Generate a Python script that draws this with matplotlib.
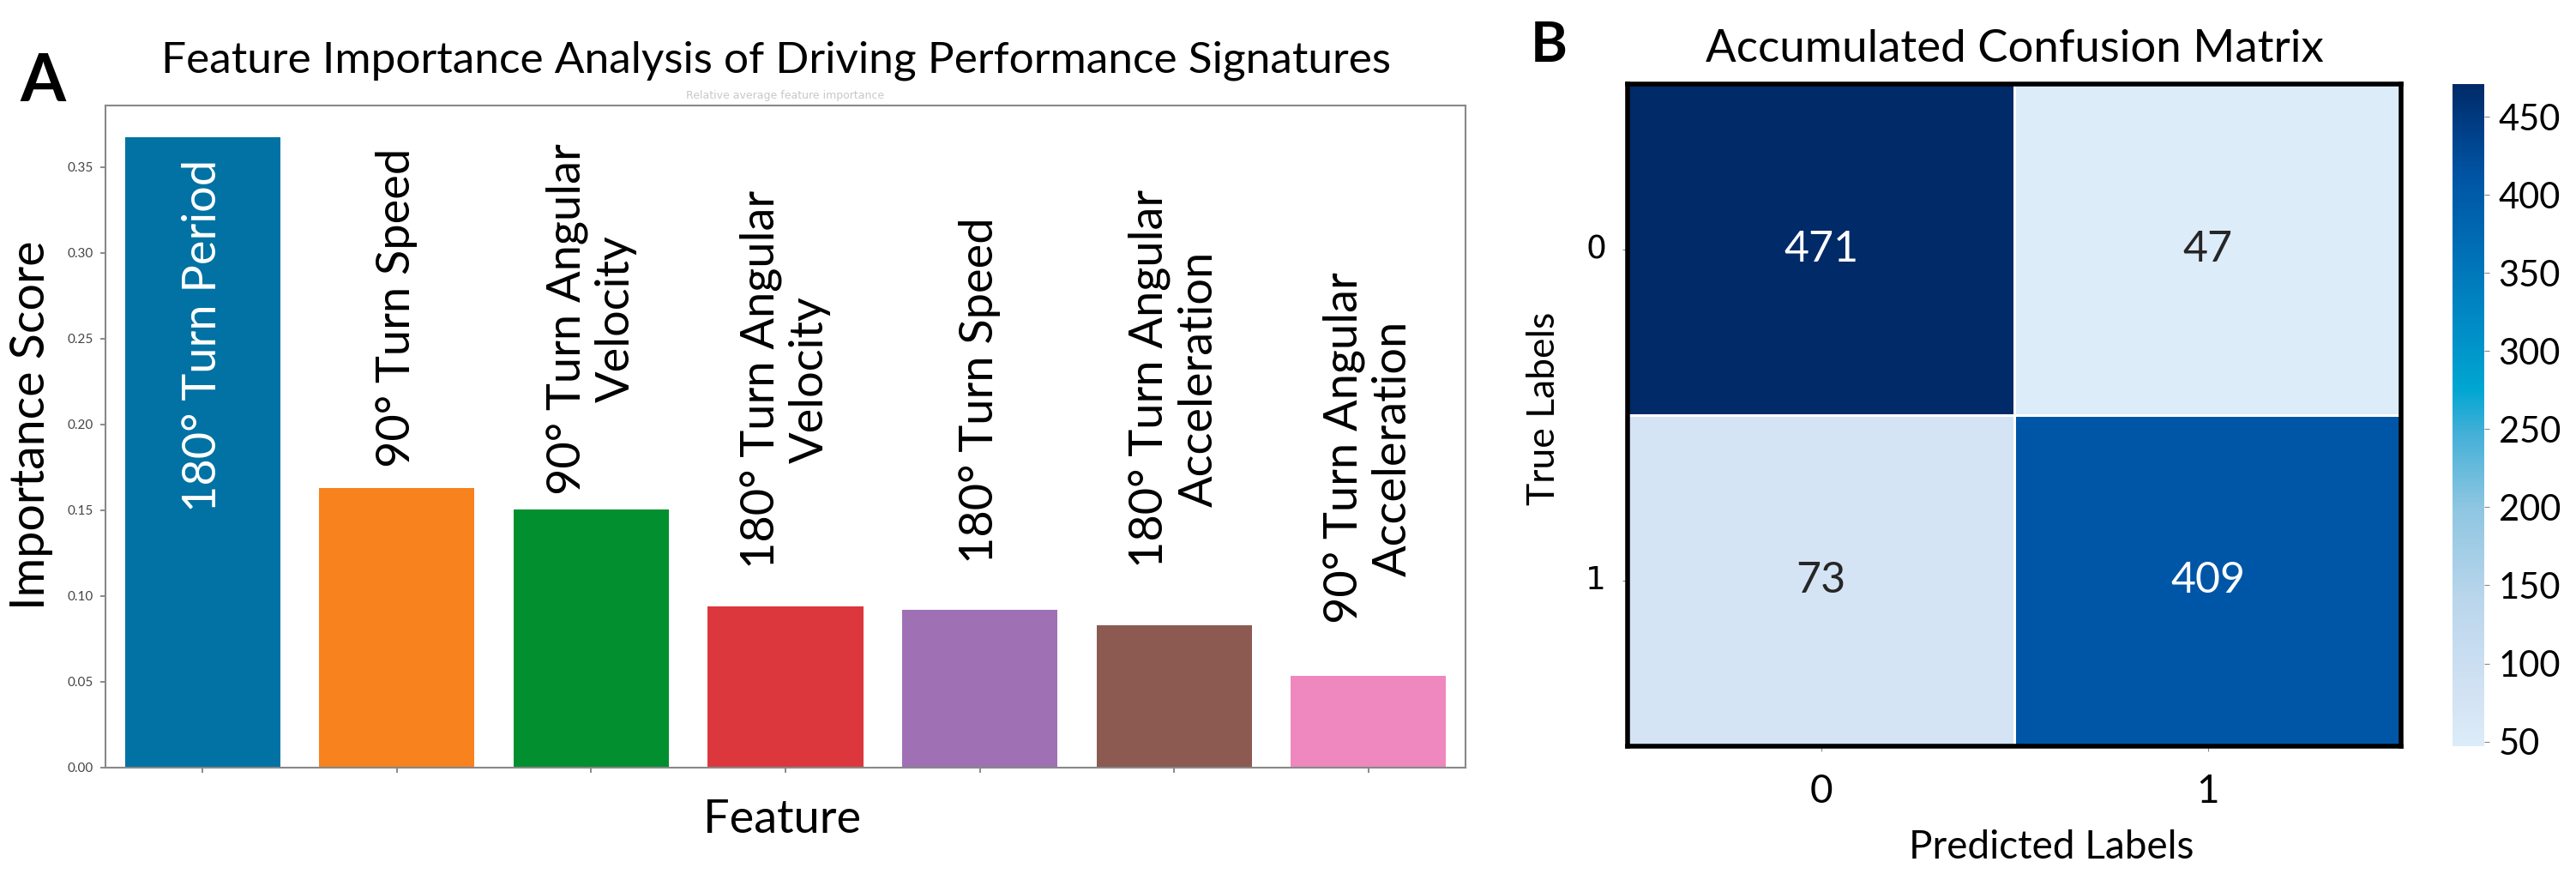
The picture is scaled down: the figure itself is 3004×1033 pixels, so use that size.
import numpy as np
import matplotlib.pyplot as plt
import seaborn as sns
from matplotlib.colors import LinearSegmentedColormap

# panel A data
features = ['180° Turn Period', '90° Turn Speed', '90° Turn Angular\nVelocity',
            '180° Turn Angular\nVelocity', '180° Turn Speed',
            '180° Turn Angular\nAcceleration', '90° Turn Angular\nAcceleration']
importance = [0.3674, 0.1630, 0.1505, 0.0937, 0.0917, 0.0828, 0.0533]
score_ticks = [0.00, 0.05, 0.10, 0.15, 0.20, 0.25, 0.30, 0.35]

# panel B data
conf_matrix = [[471, 47],
               [73, 409]]
class_labels = ['0', '1']
cbar_ticks = [50, 100, 150, 200, 250, 300, 350, 400, 450]

# layout / style
bar_colors = ['#0172a3', '#f8821e', '#028f30', '#dc373d', '#a070b5', '#8c5a50', '#ee88be']
label_y = [0.2517, 0.2677, 0.2615, 0.2261, 0.2196, 0.2266, 0.1862]
label_colors = ['white'] + ['black'] * 6

plt.rcParams['font.family'] = ['Lato', 'DejaVu Sans']

W, H = 3004, 1033
fig = plt.figure(figsize=(W / 100, H / 100), dpi=100)
fig.patch.set_facecolor('white')


def fx(px):
    return px / W


def fy(py):
    return 1 - py / H


# ---- panel A: feature importance ----
axA = fig.add_axes([fx(123), fy(895), fx(1709) - fx(123), fy(123) - fy(895)])
x = np.arange(len(features))
axA.bar(x, importance, width=0.8, color=bar_colors)
axA.set_xlim(-0.5, len(features) - 0.5)
axA.set_xticks(x)
axA.set_xticklabels([])
axA.set_yticks(score_ticks)
axA.set_yticklabels(['%.2f' % t for t in score_ticks])
axA.tick_params(axis='x', length=4, width=1.2, color='#777777')
axA.tick_params(axis='y', length=4, width=1.2, color='#777777',
                labelsize=11, labelcolor='#444444', pad=6)
for sp in axA.spines.values():
    sp.set_color('#888888')
    sp.set_linewidth(1.5)

for i, name in enumerate(features):
    axA.text(i, label_y[i], name, rotation=90, ha='center', va='center',
             multialignment='center', fontsize=39, color=label_colors[i])

axA.text(0.5, 1 + 11 / 772, 'Relative average feature importance', transform=axA.transAxes,
         ha='center', va='center', fontsize=9, color='#c8c8c8', family='DejaVu Sans')

fig.text(fx(905), fy(85), 'Feature Importance Analysis of Driving Performance Signatures',
         ha='center', va='baseline', fontsize=37)
fig.text(fx(912), fy(971), 'Feature', ha='center', va='baseline', fontsize=39)
fig.text(fx(52), fy(496), 'Importance Score', rotation=90, rotation_mode='anchor',
         ha='center', va='baseline', fontsize=40)
fig.text(fx(23), fy(118), 'A', ha='left', va='baseline', fontsize=55, fontweight='bold')

# ---- panel B: confusion matrix ----
axB = fig.add_axes([fx(1898), fy(870), fx(2800) - fx(1898), fy(98) - fy(870)])
cax = fig.add_axes([fx(2860), fy(870), fx(2897) - fx(2860), fy(98) - fy(870)])

cmap = LinearSegmentedColormap.from_list('blues_cm', [
    (0.00, '#dcecf8'), (0.06, '#d5e4f4'), (0.22, '#bad6ec'), (0.36, '#8ec6e1'),
    (0.47, '#45b0d8'), (0.54, '#00a6d2'), (0.65, '#0088c4'), (0.76, '#006cb4'),
    (0.86, '#0055a5'), (0.95, '#003a80'), (1.00, '#002a68')])

sns.heatmap(np.array(conf_matrix), annot=True, fmt='d', cmap=cmap, ax=axB, cbar_ax=cax,
            linewidths=2, linecolor='white',
            xticklabels=class_labels, yticklabels=class_labels,
            annot_kws={'fontsize': 36})

for sp in axB.spines.values():
    sp.set_visible(True)
    sp.set_linewidth(4)
    sp.set_color('black')

axB.tick_params(axis='x', length=4, color='#888888', labelsize=33, pad=19)
axB.tick_params(axis='y', length=4, color='#888888', labelsize=27, pad=14,
                labelrotation=0)
for t in axB.get_yticklabels():
    t.set_family(['DejaVu Sans'])

cax.set_yticks(cbar_ticks)
cax.tick_params(length=4, color='#888888', labelsize=30, pad=8)

fig.text(fx(2349), fy(72), 'Accumulated Confusion Matrix', ha='center', va='baseline',
         fontsize=38)
fig.text(fx(2392), fy(1001), 'Predicted Labels', ha='center', va='baseline', fontsize=33)
fig.text(fx(1813), fy(476), 'True Labels', rotation=90, rotation_mode='anchor',
         ha='center', va='baseline', fontsize=32)
fig.text(fx(1785), fy(72), 'B', ha='left', va='baseline', fontsize=47, fontweight='bold')

fig.savefig('out.png', dpi=100, facecolor='white')
